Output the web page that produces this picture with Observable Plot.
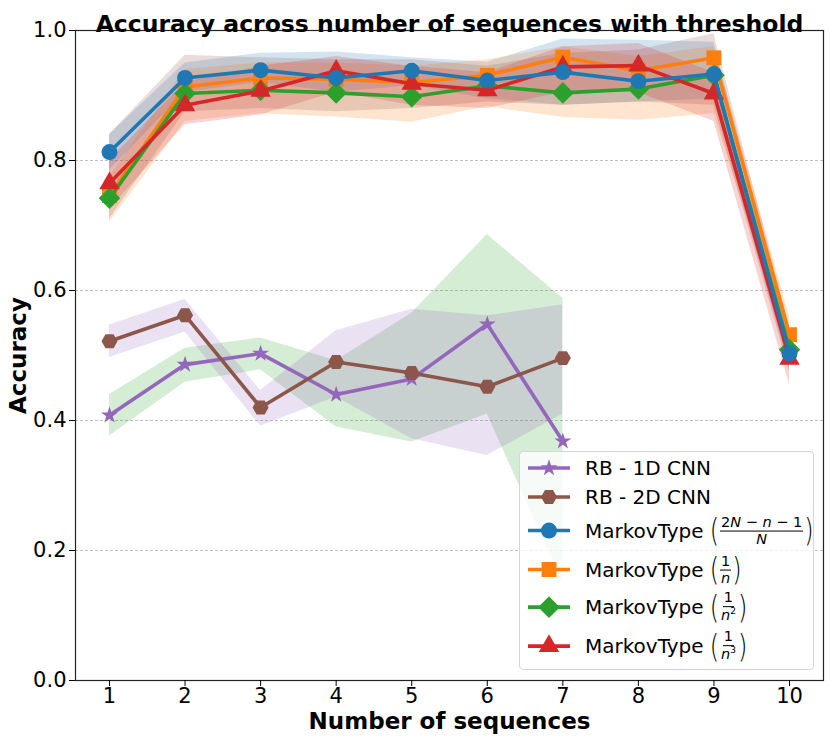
<!DOCTYPE html>
<html>
<head>
<meta charset="utf-8">
<script src="https://cdn.jsdelivr.net/npm/d3@7"></script>
<script src="https://cdn.jsdelivr.net/npm/@observablehq/plot@0.6"></script>
<style>
  html, body { margin: 0; padding: 0; background: white; }
  #wrap { position: relative; width: 830px; height: 741px; font-family: "DejaVu Sans", sans-serif; }
  #legend { position: absolute; left: 519px; top: 451px; width: 295px; height: 219px;
            border: 1px solid #d6d6d6; border-radius: 4px; background: rgba(255,255,255,0.8); box-sizing: border-box; }
  .row { position: absolute; left: 0; display: flex; align-items: center; transform: translateY(-50%);
         font-size: 20px; color: #000; white-space: nowrap; }
  .row svg { display: block; margin-left: 7px; margin-right: 14px; }
  .paren { font-size: 24px; font-weight: 300; transform: scaleY(1.35); display: inline-block; line-height: 1; margin: 0 1px; }
  .paren.open { margin-left: 6px; }
  .frac { display: inline-flex; flex-direction: column; align-items: center; font-size: 14.5px; line-height: 1.1; vertical-align: middle; }
  .frac .num { border-bottom: 1.3px solid #000; padding: 0 1px; }
  .frac .den { padding: 0 1px; }
  .frac i { font-style: italic; }
  sup { font-size: 9px; }
</style>
</head>
<body>
<div id="wrap"><div id="legend"></div></div>
<script>
// ---------------- data ----------------
const xMarkov = [1, 2, 3, 4, 5, 6, 7, 8, 9, 10];
const xRB = [1, 2, 3, 4, 5, 6, 7];
const xTicks = [1, 2, 3, 4, 5, 6, 7, 8, 9, 10];
const yTicks = [0.0, 0.2, 0.4, 0.6, 0.8, 1.0];
const gridTicks = [0.2, 0.4, 0.6, 0.8];

const rb1d   = [0.408, 0.486, 0.503, 0.440, 0.464, 0.548, 0.368];
const rb1dLo = [0.376, 0.459, 0.478, 0.390, 0.367, 0.410, 0.150];
const rb1dHi = [0.440, 0.511, 0.527, 0.492, 0.565, 0.686, 0.588];

const rb2d   = [0.522, 0.562, 0.420, 0.490, 0.473, 0.452, 0.496];
const rb2dLo = [0.497, 0.536, 0.391, 0.436, 0.372, 0.346, 0.410];
const rb2dHi = [0.547, 0.586, 0.446, 0.538, 0.571, 0.561, 0.578];

const mkA   = [0.813, 0.927, 0.939, 0.927, 0.938, 0.923, 0.936, 0.922, 0.933, 0.503];
const mkALo = [0.785, 0.905, 0.920, 0.905, 0.915, 0.895, 0.885, 0.890, 0.895, 0.480];
const mkAHi = [0.840, 0.950, 0.965, 0.967, 0.958, 0.951, 0.987, 0.985, 0.982, 0.530];

const mkB   = [0.746, 0.913, 0.927, 0.925, 0.920, 0.931, 0.959, 0.938, 0.958, 0.532];
const mkBLo = [0.705, 0.860, 0.872, 0.867, 0.859, 0.883, 0.866, 0.862, 0.872, 0.505];
const mkBHi = [0.775, 0.940, 0.950, 0.950, 0.945, 0.955, 0.975, 0.960, 0.975, 0.560];

const mkC   = [0.742, 0.903, 0.908, 0.904, 0.898, 0.915, 0.904, 0.910, 0.931, 0.509];
const mkCLo = [0.710, 0.875, 0.880, 0.875, 0.880, 0.890, 0.885, 0.890, 0.885, 0.475];
const mkCHi = [0.840, 0.962, 0.958, 0.955, 0.955, 0.945, 0.965, 0.970, 0.995, 0.545];

const mkD   = [0.765, 0.885, 0.907, 0.938, 0.918, 0.908, 0.944, 0.946, 0.903, 0.495];
const mkDLo = [0.725, 0.855, 0.870, 0.905, 0.885, 0.880, 0.905, 0.905, 0.860, 0.455];
const mkDHi = [0.800, 0.920, 0.945, 0.960, 0.945, 0.935, 0.975, 0.980, 0.935, 0.535];

const seriesNames = ["RB - 1D CNN", "RB - 2D CNN", "MarkovType A", "MarkovType B", "MarkovType C", "MarkovType D"];
const lineColors  = ["#9467bd", "#8c564b", "#1f77b4", "#ff7f0e", "#2ca02c", "#d62728"];
const bandColors  = ["#2ca02c", "#9467bd", "#1f77b4", "#ff7f0e", "#8c564b", "#d62728"];

const titleText = "Accuracy across number of sequences with threshold";
const xLabel = "Number of sequences";
const yLabel = "Accuracy";

// ---------------- symbols ----------------
const hexagon = { draw(ctx, size) {
  const r = Math.sqrt(size / (1.5 * Math.sqrt(3)));
  for (let k = 0; k < 6; k++) {
    const a = k * Math.PI / 3;
    const px = r * Math.cos(a), py = r * Math.sin(a);
    if (k === 0) ctx.moveTo(px, py); else ctx.lineTo(px, py);
  }
  ctx.closePath();
}};
const diamondSq = { draw(ctx, size) {
  const s = Math.sqrt(size / 2);
  ctx.moveTo(0, -s); ctx.lineTo(s, 0); ctx.lineTo(0, s); ctx.lineTo(-s, 0); ctx.closePath();
}};
const symbols = [d3.symbolStar, hexagon, d3.symbolCircle, d3.symbolSquare, diamondSq, d3.symbolTriangle];
const radii = [5.3, 7.3, 8, 8.4, 8.6, 7.6];

function rows(xv, y, lo, hi) { return xv.map((x, i) => ({x, y: y[i], lo: lo[i], hi: hi[i]})); }
const data = [
  rows(xRB, rb1d, rb1dLo, rb1dHi),
  rows(xRB, rb2d, rb2dLo, rb2dHi),
  rows(xMarkov, mkA, mkALo, mkAHi),
  rows(xMarkov, mkB, mkBLo, mkBHi),
  rows(xMarkov, mkC, mkCLo, mkCHi),
  rows(xMarkov, mkD, mkDLo, mkDHi)
];

const bandMarks = data.map((d, i) => Plot.areaY(d, {x: "x", y1: "lo", y2: "hi", fill: bandColors[i], fillOpacity: 0.2}));
const drawOrder = [0, 1, 3, 4, 5, 2];
const lineMarks = drawOrder.flatMap(i => [
  Plot.lineY(data[i], {x: "x", y: "y", stroke: lineColors[i], strokeWidth: 3.6}),
  Plot.dot(data[i], {x: "x", y: "y", symbol: symbols[i], r: radii[i], fill: lineColors[i], stroke: "none"})
]);

const chart = Plot.plot({
  width: 830, height: 741,
  marginLeft: 75, marginRight: 7, marginTop: 30, marginBottom: 61,
  style: {fontFamily: "DejaVu Sans, sans-serif", fontSize: "21px", background: "white", color: "black"},
  x: {domain: [0.55, 10.45]},
  y: {domain: [0, 1]},
  marks: [
    Plot.gridY(gridTicks, {stroke: "#b0b0b0", strokeOpacity: 1, strokeWidth: 0.8, strokeDasharray: "3,2"}),
    ...bandMarks,
    ...lineMarks,
    Plot.frame({stroke: "#222", strokeWidth: 1.2}),
    Plot.axisX(xTicks, {tickSize: 6, tickPadding: 2, label: null, fontSize: 21, tickFormat: d => String(d)}),
    Plot.axisY(yTicks, {tickSize: 6, tickPadding: 3, label: null, fontSize: 21, tickFormat: d3.format(".1f")}),
    Plot.text([titleText], {text: d => d, frameAnchor: "top", dy: -15, fontWeight: "bold", fontSize: 23.5}),
    Plot.text([xLabel], {text: d => d, frameAnchor: "bottom", dy: 48, fontWeight: "bold", fontSize: 23}),
    Plot.text([yLabel], {text: d => d, frameAnchor: "left", textAnchor: "middle", dx: -57, rotate: -90, fontWeight: "bold", fontSize: 23})
  ]
});
document.getElementById("wrap").prepend(chart);

// ---------------- legend ----------------
const legendLabels = [
  "RB - 1D CNN",
  "RB - 2D CNN",
  'MarkovType<span class="paren open">(</span><span class="frac"><span class="num">2<i>N</i> − <i>n</i> − 1</span><span class="den"><i>N</i></span></span><span class="paren">)</span>',
  'MarkovType<span class="paren open">(</span><span class="frac"><span class="num">1</span><span class="den"><i>n</i></span></span><span class="paren">)</span>',
  'MarkovType<span class="paren open">(</span><span class="frac"><span class="num">1</span><span class="den"><i>n</i><sup>2</sup></span></span><span class="paren">)</span>',
  'MarkovType<span class="paren open">(</span><span class="frac"><span class="num">1</span><span class="den"><i>n</i><sup>3</sup></span></span><span class="paren">)</span>'
];
const rowCenters = [16, 45, 79, 118, 155, 194];
const legend = d3.select("#legend");
legendLabels.forEach((lab, i) => {
  const row = legend.append("div").attr("class", "row").style("top", rowCenters[i] + "px");
  const svg = row.append("svg").attr("width", 44).attr("height", 24);
  svg.append("line").attr("x1", 1).attr("x2", 43).attr("y1", 12).attr("y2", 12)
     .attr("stroke", lineColors[i]).attr("stroke-width", 3.6);
  svg.append("path").attr("transform", "translate(22,12)")
     .attr("d", d3.symbol().type(symbols[i]).size(Math.PI * radii[i] * radii[i])())
     .attr("fill", lineColors[i]);
  row.append("span").style("display", "inline-flex").style("align-items", "center").html(lab);
});
</script>
</body>
</html>
